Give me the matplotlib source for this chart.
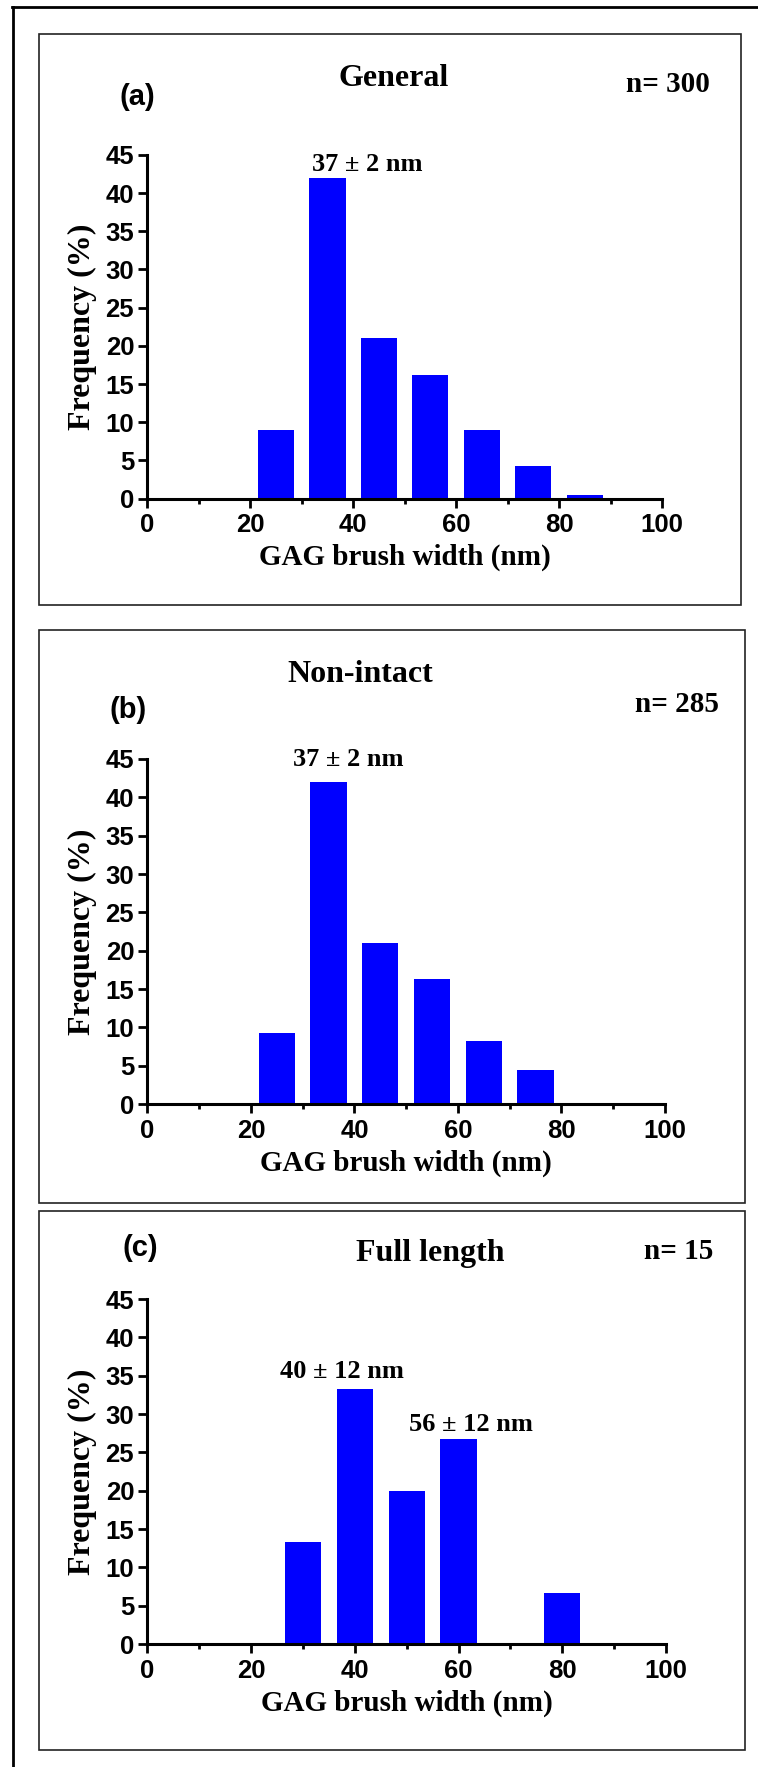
import matplotlib
matplotlib.use("Agg")
import matplotlib.pyplot as plt
from matplotlib.patches import Rectangle
from matplotlib.lines import Line2D
from matplotlib.ticker import MultipleLocator

# ---------------------------------------------------------------- data
bins_general = [25, 35, 45, 55, 65, 75, 85]
freq_general = [9.0, 42.0, 21.0, 16.2, 9.0, 4.2, 0.5]

bins_nonintact = [25, 35, 45, 55, 65, 75]
freq_nonintact = [9.3, 42.0, 21.0, 16.3, 8.2, 4.4]

bins_full = [30, 40, 50, 60, 80]
freq_full = [13.3, 33.3, 20.0, 26.7, 6.7]

panel_letters = ["(a)", "(b)", "(c)"]
panel_titles = ["General", "Non-intact", "Full length"]
sample_sizes = ["n= 300", "n= 285", "n= 15"]

peak_labels_general = [("37 \u00b1 2 nm", 42.7, 43.7)]
peak_labels_nonintact = [("37 \u00b1 2 nm", 38.8, 44.9)]
peak_labels_full = [("40 \u00b1 12 nm", 37.5, 35.5), ("56 \u00b1 12 nm", 62.4, 28.6)]

x_ticks = [0, 20, 40, 60, 80, 100]
y_ticks = [0, 5, 10, 15, 20, 25, 30, 35, 40, 45]
x_label = "GAG brush width (nm)"
y_label = "Frequency (%)"

# ---------------------------------------------------------------- layout
W, H = 758, 1767
BAR_COLOR = "#0000ff"
BAR_WIDTH = 7
SERIF = "Liberation Serif"
SANS = "Liberation Sans"

fig = plt.figure(figsize=(W / 100, H / 100), dpi=100)


def fx(px):
    return px / W


def fy(py):
    return 1 - py / H


# outer frame (only its left and top edges fall inside the canvas)
fig.add_artist(Line2D([fx(12.7), fx(12.7)], [fy(6.7), fy(H + 5)],
                      transform=fig.transFigure, color="black", lw=2.0))
fig.add_artist(Line2D([fx(11.7), fx(W + 5)], [fy(6.7), fy(6.7)],
                      transform=fig.transFigure, color="black", lw=2.0))

panels = [
    dict(box=(39, 34, 741, 605), axes=(147.4, 662, 498.5, 155),
         letter=(137, 97), title=(394, 78), n=(668, 85),
         bins=bins_general, freq=freq_general, peaks=peak_labels_general),
    dict(box=(39, 630, 745, 1203), axes=(147.4, 665, 1104, 759),
         letter=(128, 710), title=(360, 675), n=(677, 705),
         bins=bins_nonintact, freq=freq_nonintact, peaks=peak_labels_nonintact),
    dict(box=(39, 1211, 745, 1750), axes=(147.4, 666, 1644, 1299),
         letter=(140, 1248), title=(430, 1253), n=(679, 1251),
         bins=bins_full, freq=freq_full, peaks=peak_labels_full),
]

for i, p in enumerate(panels):
    l, t, r, b = p["box"]
    fig.add_artist(Rectangle((fx(l), fy(b)), (r - l) / W, (b - t) / H,
                             transform=fig.transFigure, fill=False,
                             edgecolor="#222222", lw=1.2))

    x0, x1, y0, y1 = p["axes"]
    ax = fig.add_axes([fx(x0), fy(y0), (x1 - x0) / W, (y0 - y1) / H])
    ax.bar(p["bins"], p["freq"], width=BAR_WIDTH, color=BAR_COLOR,
           edgecolor="none", zorder=2)
    ax.set_xlim(0, 100)
    ax.set_ylim(0, 45)
    ax.set_xticks(x_ticks)
    ax.set_yticks(y_ticks)
    ax.xaxis.set_minor_locator(MultipleLocator(10))
    for side in ("top", "right"):
        ax.spines[side].set_visible(False)
    for side in ("left", "bottom"):
        ax.spines[side].set_linewidth(2.2)
        ax.spines[side].set_color("black")
    ax.tick_params(axis="x", which="major", direction="out", length=6.5,
                   width=2.0, pad=4)
    ax.tick_params(axis="x", which="minor", direction="out", length=3.5,
                   width=2.0)
    ax.tick_params(axis="y", which="major", direction="out", length=6.5,
                   width=2.0, pad=3)
    for lab in ax.get_xticklabels() + ax.get_yticklabels():
        lab.set_fontfamily(SANS)
        lab.set_fontweight("bold")
        lab.set_fontsize(18.5)
    ax.patch.set_visible(False)

    for txt, xv, yv in p["peaks"]:
        ax.text(xv, yv, txt, ha="center", va="center", family=SERIF,
                weight="bold", fontsize=19, clip_on=False)

    ax.set_xlabel(x_label, family=SERIF, weight="bold", fontsize=21,
                  labelpad=5)
    ax.set_ylabel(y_label, family=SERIF, weight="bold", fontsize=23,
                  labelpad=6)

    lx, ly = p["letter"]
    fig.text(fx(lx), fy(ly), panel_letters[i], ha="center", va="center",
             family=SANS, weight="bold", fontsize=21)
    tx, ty = p["title"]
    fig.text(fx(tx), fy(ty), panel_titles[i], ha="center", va="center",
             family=SERIF, weight="bold", fontsize=23)
    nx, ny = p["n"]
    fig.text(fx(nx), fy(ny), sample_sizes[i], ha="center", va="center",
             family=SERIF, weight="bold", fontsize=21)

fig.savefig("out.png", dpi=100, facecolor="white")
